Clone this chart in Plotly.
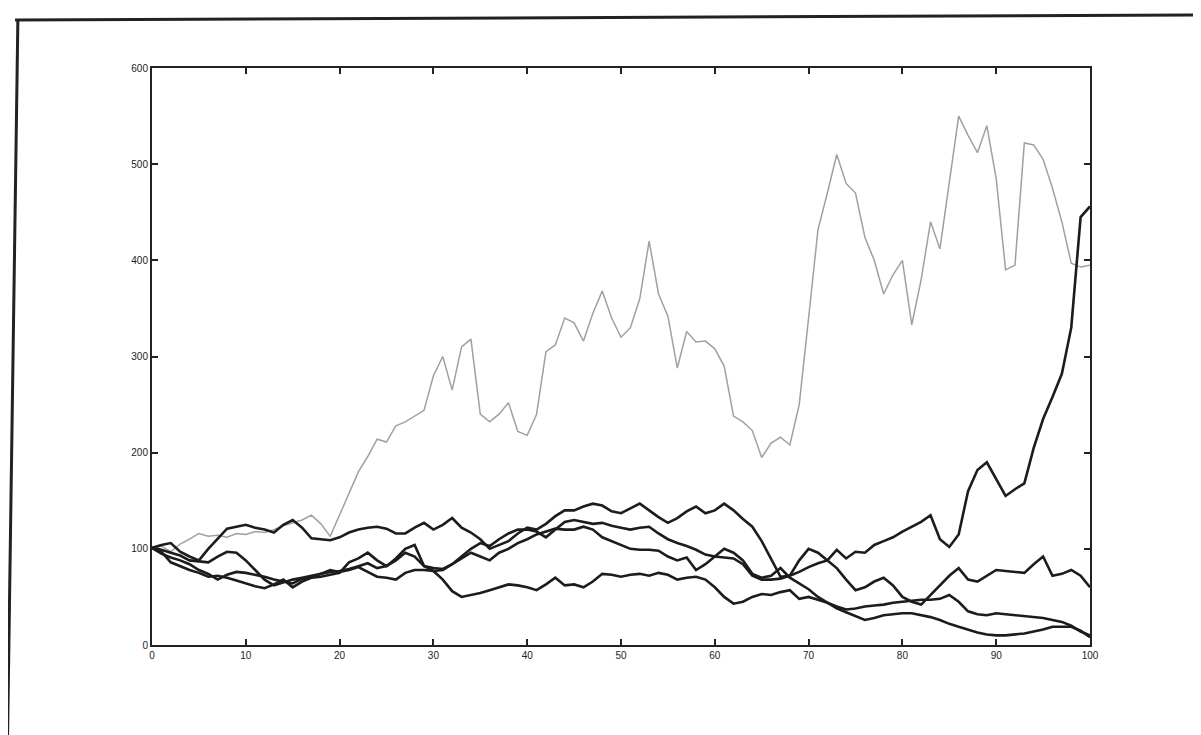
import plotly.graph_objects as go

x_steps = list(range(0, 101))

series_gray = [100, 103, 97, 105, 110, 116, 113, 114, 112, 116, 115, 118, 117, 120, 124, 127, 130, 135, 126, 113,
               135, 158, 180, 196, 214, 211, 228, 232, 238, 244, 280, 300, 265, 310, 318, 240, 232, 240, 252, 222,
               218, 240, 305, 312, 340, 335, 316, 345, 368, 340, 320, 330, 360, 420, 365, 342, 288, 326, 315, 316,
               308, 290, 238, 232, 223, 195, 210, 216, 208, 250, 340, 432, 470, 510, 480, 470, 424, 400, 365, 385,
               400, 333, 380, 440, 412, 480, 550, 530, 512, 540, 485, 390, 395, 522, 520, 505, 475, 440, 397, 393,
               395]

series_b1 = [101, 104, 106, 97, 92, 88, 100, 110, 121, 123, 125, 122, 120, 117, 125, 130, 122, 111, 110, 109,
             112, 117, 120, 122, 123, 121, 116, 116, 122, 127, 120, 125, 132, 122, 117, 110, 100, 104, 108, 116,
             122, 120, 126, 134, 140, 140, 144, 147, 145, 139, 137, 142, 147, 140, 133, 127, 132, 139, 144, 137,
             140, 147, 140, 131, 123, 108, 90, 71, 72, 76, 81, 85, 88, 99, 90, 97, 96, 104, 108, 112,
             118, 123, 128, 135, 110, 102, 115, 160, 182, 190, 172, 155, 162, 168, 205, 235, 258, 282, 330, 445,
             456]

series_b2 = [101, 99, 96, 93, 88, 87, 86, 92, 97, 96, 88, 78, 68, 62, 65, 68, 70, 72, 74, 76,
             77, 79, 82, 85, 80, 82, 88, 96, 92, 82, 80, 79, 84, 92, 100, 106, 103, 110, 116, 120,
             120, 118, 112, 120, 128, 130, 128, 126, 127, 124, 122, 120, 122, 123, 116, 110, 106, 103, 99, 94,
             92, 91, 90, 84, 72, 68, 68, 69, 72, 88, 100, 96, 88, 80, 68, 57, 60, 66, 70, 62,
             50, 45, 42, 52, 63, 72, 80, 68, 66, 72, 78, 77, 76, 75, 84, 92, 72, 74, 78, 72,
             60]

series_b3 = [101, 95, 91, 88, 84, 78, 74, 68, 73, 76, 75, 73, 71, 68, 66, 64, 69, 70, 71, 73,
             75, 86, 90, 96, 88, 82, 90, 100, 104, 82, 77, 68, 56, 50, 52, 54, 57, 60, 63, 62,
             60, 57, 63, 70, 62, 63, 60, 66, 74, 73, 71, 73, 74, 72, 75, 73, 68, 70, 71, 68,
             60, 50, 43, 45, 50, 53, 52, 55, 57, 48, 50, 47, 44, 40, 37, 38, 40, 41, 42, 44,
             45, 46, 47, 47, 48, 52, 45, 35, 32, 31, 33, 32, 31, 30, 29, 28, 26, 24, 20, 14,
             10]

series_b4 = [101, 97, 86, 82, 78, 75, 71, 72, 70, 67, 64, 61, 59, 63, 68, 60, 66, 70, 74, 78,
             76, 78, 81, 76, 71, 70, 68, 75, 78, 78, 77, 78, 84, 90, 96, 92, 88, 96, 100, 106,
             110, 115, 118, 121, 120, 120, 123, 120, 112, 108, 104, 100, 99, 99, 98, 92, 88, 91, 78, 84,
             92, 100, 96, 88, 74, 70, 72, 80, 70, 64, 58, 50, 44, 38, 34, 30, 26, 28, 31, 32,
             33, 33, 31, 29, 26, 22, 19, 16, 13, 11, 10, 10, 11, 12, 14, 16, 19, 19, 19, 15,
             8]

x_ticks = [0, 10, 20, 30, 40, 50, 60, 70, 80, 90, 100]
y_ticks = [0, 100, 200, 300, 400, 500, 600]

fig = go.Figure()
fig.add_trace(go.Scatter(x=x_steps, y=series_gray, mode="lines",
                         line=dict(color="#a0a0a0", width=1.5), showlegend=False))
for s in [series_b3, series_b4, series_b2, series_b1]:
    fig.add_trace(go.Scatter(x=x_steps, y=s, mode="lines",
                             line=dict(color="#1c1c1c", width=2.6), showlegend=False))

axis_common = dict(showgrid=False, zeroline=False, showline=True, linecolor="#222222",
                   linewidth=2, mirror="allticks", ticks="inside", ticklen=6,
                   tickwidth=1.5, tickcolor="#222222",
                   tickfont=dict(family="Liberation Sans, Arial, sans-serif", size=10, color="#222222"))

fig.update_xaxes(range=[0, 100], tickvals=x_ticks, ticktext=[str(v) for v in x_ticks], **axis_common)
fig.update_yaxes(range=[0, 600], tickvals=y_ticks, ticktext=[str(v) for v in y_ticks], **axis_common)

fig.update_layout(
    width=1201, height=735,
    margin=dict(l=144, r=119, t=60, b=98),
    paper_bgcolor="white", plot_bgcolor="white",
    shapes=[
        dict(type="line", xref="paper", yref="paper", x0=-0.146, x1=1.12, y0=1.083, y1=1.092,
             line=dict(color="#222222", width=3)),
        dict(type="line", xref="paper", yref="paper", x0=-0.143, x1=-0.154, y0=1.083, y1=-0.16,
             line=dict(color="#222222", width=3)),
    ],
)

fig.write_html("out.html")
